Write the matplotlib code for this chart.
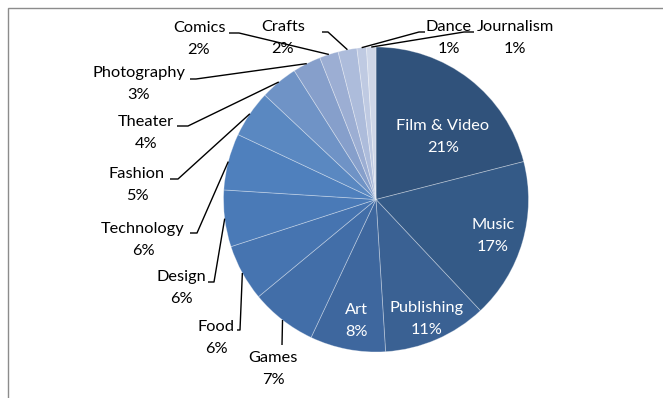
import matplotlib.pyplot as plt
import numpy as np
from matplotlib.patches import Rectangle

# カテゴリ別の割合 (%)
categories = ["Film & Video", "Music", "Publishing", "Art", "Games", "Food",
              "Design", "Technology", "Fashion", "Theater", "Photography",
              "Comics", "Crafts", "Dance", "Journalism"]
shares = [21, 17, 11, 8, 7, 6, 6, 6, 5, 4, 3, 2, 2, 1, 1]

colors = ["#30527b", "#345a87", "#3a6193", "#3e679e", "#426ea8", "#4674b0",
          "#4a7ab7", "#4f80bd", "#5a88c1", "#6f93c6", "#869fcb", "#9caed3",
          "#adbcdb", "#bfcae2", "#cfd7e8"]

# 円の中心と半径 (ピクセル単位)
cx, cy, r = 376, 198.5, 152.5

# ラベル位置 (文字の中心) と引き出し線の折れ点
inside = {"Film & Video": (443, 261), "Music": (493, 162),
          "Publishing": (427, 79), "Art": (356, 77)}
outside = {
    "Games":       ((273, 29),  [(282, 53)]),
    "Food":        ((216, 60),  [(237, 68), (240, 68)]),
    "Design":      ((181, 110), [(208, 116), (214, 116)]),
    "Technology":  ((143, 158), [(190, 165), (197, 165)]),
    "Fashion":     ((137, 213), [(170, 219), (178, 219)]),
    "Theater":     ((146, 265), [(177, 272), (188, 272)]),
    "Photography": ((139, 314), [(190, 319), (196, 319)]),
    "Comics":      ((199, 359), [(229, 365), (239, 365)]),
    "Crafts":      ((283, 360), [(322, 366), (328, 366)]),
    "Dance":       ((449, 360), [(425, 366), (419, 366)]),
    "Journalism":  ((515, 360), [(474, 366), (464, 366)]),
}

plt.rcParams['font.family'] = ['Lato', 'DejaVu Sans']

fig = plt.figure(figsize=(6.63, 3.98), dpi=100)
ax = fig.add_axes([0, 0, 1, 1])

wedges, _ = ax.pie(shares, colors=colors, startangle=90, counterclock=False,
                   center=(cx, cy), radius=r, frame=True,
                   wedgeprops=dict(edgecolor=(1, 1, 1, 0.35), linewidth=0.6))
ax.set_xlim(0, 663)
ax.set_ylim(0, 398)
ax.set_aspect('auto')
ax.axis('off')

# 外枠
ax.add_patch(Rectangle((7.5, -5), 700, 395, fill=False, edgecolor='#8c8c8c',
                       linewidth=1.0, clip_on=False))

for w, name, val in zip(wedges, categories, shares):
    label = f"{name}\n{val}%"
    if name in inside:
        x, y = inside[name]
        ax.text(x, y, label, color='white', fontsize=11.8, ha='center',
                va='center', linespacing=1.72)
        continue
    (x, y), bends = outside[name]
    ax.text(x, y, label, color='black', fontsize=11.8, ha='center',
            va='center', linespacing=1.72)
    mid = np.deg2rad((w.theta1 + w.theta2) / 2)
    edge = (cx + r * np.cos(mid), cy + r * np.sin(mid))
    pts = bends + [edge]
    ax.plot([p[0] for p in pts], [p[1] for p in pts], color='black',
            linewidth=1.0, solid_capstyle='butt')

fig.savefig("out.png", dpi=100)
